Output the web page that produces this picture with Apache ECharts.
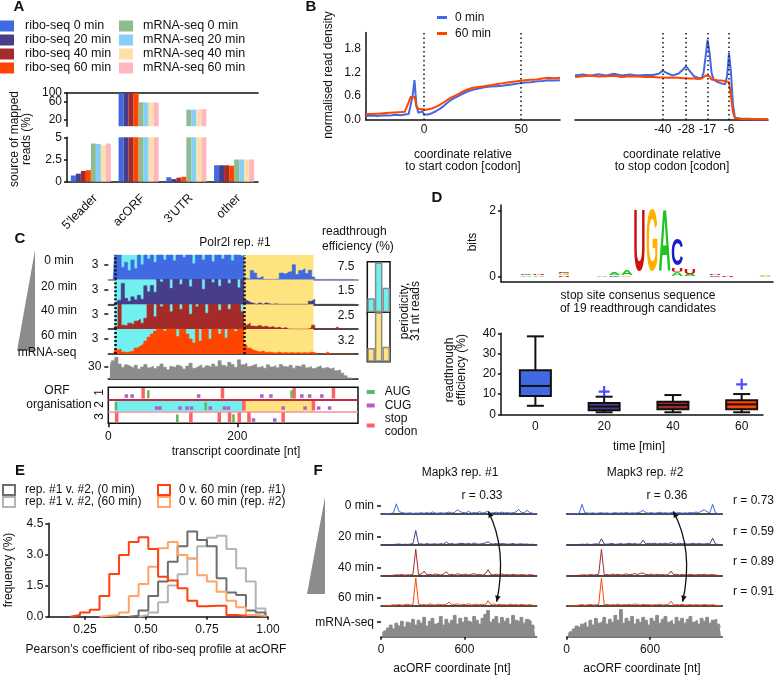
<!DOCTYPE html>
<html>
<head>
<meta charset="utf-8">
<title>ribo-seq readthrough figure</title>
<script src="https://cdn.jsdelivr.net/npm/echarts@6/dist/echarts.min.js"></script>
<style>
  html, body { margin: 0; padding: 0; background: #fff; }
  #chart { width: 779px; height: 676px; }
</style>
</head>
<body>
<div id="chart"></div>
<script>
var FONT = 'Liberation Sans';
var INK = '#111';
var CYAN = '#72f0f0';
var YELLOW = '#ffe37f';

// ---- A: source of mapped reads ----
var regionNames = ["5'leader", 'acORF', "3'UTR", 'other'];
var sampleNames = ['ribo-seq 0 min', 'ribo-seq 20 min', 'ribo-seq 40 min', 'ribo-seq 60 min',
                   'mRNA-seq 0 min', 'mRNA-seq 20 min', 'mRNA-seq 40 min', 'mRNA-seq 60 min'];
var sampleColors = ['#4169e1', '#483d8b', '#a52a2a', '#ff4500', '#8fbc8f', '#87cefa', '#ffe0a8', '#ffb6c1'];
var riboShare0 = [0.7, 97, 0.5, 1.85];
var riboShare20 = [0.9, 97, 0.3, 1.85];
var riboShare40 = [1.2, 97, 0.45, 1.85];
var riboShare60 = [1.3, 97, 0.55, 1.8];
var mrnaShare0 = [4.3, 57, 37, 2.5];
var mrnaShare20 = [4.25, 56, 37, 2.5];
var mrnaShare40 = [4.1, 56, 38, 2.5];
var mrnaShare60 = [4.3, 56, 38, 2.5];
var readShares = [riboShare0, riboShare20, riboShare40, riboShare60, mrnaShare0, mrnaShare20, mrnaShare40, mrnaShare60];
var upperTicks = [20, 60, 99.99];

// ---- B: metagene read density ----
var startCodonPos = [-30, -27, -24, -21, -18, -15, -12, -10, -9, -8, -7, -6, -5, -4, -3, -2, -1, 0, 1, 2, 4, 6, 8, 10,
                     13, 16, 19, 22, 25, 28, 31, 34, 37, 40, 43, 46, 49, 52, 55, 58, 61, 64, 67, 70];
var startDensity0 = [0.10, 0.11, 0.10, 0.12, 0.11, 0.13, 0.12, 0.14, 0.14, 0.15, 0.20, 0.60, 1.00, 0.35, 0.18, 0.20, 0.22, 0.14, 0.12, 0.14, 0.17, 0.22, 0.28, 0.35,
                     0.48, 0.56, 0.64, 0.71, 0.76, 0.79, 0.82, 0.84, 0.85, 0.86, 0.88, 0.90, 0.92, 0.94, 0.95, 0.97, 0.98, 1.00, 0.99, 1.00];
var startDensity60 = [0.15, 0.15, 0.16, 0.17, 0.18, 0.19, 0.20, 0.21, 0.22, 0.45, 0.58, 0.60, 0.58, 0.35, 0.28, 0.27, 0.27, 0.26, 0.26, 0.27, 0.29, 0.33, 0.38, 0.44,
                      0.54, 0.61, 0.69, 0.76, 0.81, 0.83, 0.85, 0.87, 0.90, 0.92, 0.94, 0.96, 0.98, 1.00, 1.01, 1.02, 1.04, 1.06, 1.05, 1.06];
var stopCodonPos = [-85, -81, -77, -73, -69, -65, -61, -57, -53, -49, -45, -42, -40, -38, -35, -32, -30, -28, -26, -24, -22, -20,
                    -19, -18, -17, -16, -15, -14, -12, -10, -8, -7, -6, -5, -4, -3, -2, 0, 4, 8, 14];
var stopDensity0 = [1.12, 1.14, 1.11, 1.15, 1.12, 1.16, 1.12, 1.14, 1.12, 1.13, 1.13, 1.16, 1.24, 1.18, 1.12, 1.16, 1.25, 1.35, 1.22, 1.10, 1.06, 1.05,
                    1.20, 1.60, 2.02, 1.70, 1.20, 1.02, 0.96, 0.92, 0.90, 1.10, 1.68, 1.20, 0.40, 0.06, 0.04, 0.03, 0.03, 0.02, 0.02];
var stopDensity60 = [1.08, 1.10, 1.12, 1.09, 1.10, 1.11, 1.08, 1.10, 1.09, 1.08, 1.08, 1.07, 1.07, 1.06, 1.07, 1.06, 1.05, 1.05, 1.04, 1.04, 1.03, 1.04,
                     1.07, 1.12, 1.17, 1.10, 1.02, 1.00, 1.00, 0.99, 0.98, 0.98, 0.95, 0.60, 0.20, 0.05, 0.04, 0.03, 0.02, 0.02, 0.02];
var startMarks = [0, 50];
var stopMarks = [-40, -28, -17, -6];

// ---- C: Polr2l profile, 5 nt bins ----
var transcriptLen = 387;
var cBin = 5;
var acorfStart = 10, acorfStop = 210, readthroughStop = 318;
var riboProfile0 = [0, 0, 6, 5.5, 2.5, 3.5, 1.8, 4, 2.2, 6, 3, 6, 4.2, 6, 3.5, 6,
  6, 4, 6, 6, 3.8, 6, 6, 4.5, 6, 6, 3.2, 6, 6, 4, 6, 6, 3.6, 6, 6, 4.2, 6, 6, 3.8, 6, 6, 4.8,
  0.2, 0, 1.8, 1.3, 0.3, 0.6, 0, 0, 0, 0, 0.1, 1.3, 1.1, 1.5, 1.6, 3.0, 1.0, 1.8, 2.2, 1.2, 1.9, 0.5,
  0, 0, 0, 0, 0, 0, 0, 0, 0, 0, 0, 0, 0];
var riboProfile20 = [0, 0, 0.3, 0.8, 4.2, 1.2, 0.6, 1.5, 0.9, 1.8, 1.0, 3.7, 2.5, 3.8, 2.4,
  6, 4.5, 6, 6, 3.2, 6, 6, 4.0, 6, 6, 3.5, 6, 6, 6, 3.0, 6, 6, 4.4, 6, 3.6, 6, 6, 4.2, 6, 6, 3.3, 6,
  0.8, 0.4, 0.2, 0, 0.3, 0, 0.3, 0.1, 0, 0.1, 0, 0, 0, 0, 0, 0, 0, 0, 0, 0, 0.6, 1.0,
  0, 0, 0, 0, 0, 0, 0, 0, 0, 0, 0, 0, 0];
var riboProfile40 = [0, 0, 0.5, 6, 0.8, 0.6, 1.2, 0.9, 1.6, 2.0, 1.2, 2.2, 5, 6, 2.5,
  6, 4.5, 6, 6, 3.5, 6, 6, 4.0, 6, 6, 3.0, 6, 4.5, 6, 6, 3.2, 6, 6, 6, 3.8, 6, 6, 4.0, 6, 5, 6, 3.5,
  0.8, 1.2, 0.6, 0.5, 0.8, 0.4, 0.6, 0.3, 0.5, 0.2, 0.4, 0.1, 0.3, 0, 0, 0, 0, 0, 0, 0, 0.3, 0.8,
  0, 0, 0, 0, 0, 0, 0.4, 0, 0, 0, 0, 0, 0];
var riboProfile60 = [0, 0, 0.8, 1.0, 0.4, 0.3, 0.5, 0.6, 1.2, 1.6, 2.0, 2.6, 3.4, 4.0, 4.6,
  6, 6, 4.6, 6, 6, 6, 3.5, 6, 6, 4.0, 3.0, 2.2, 6, 2.6, 5, 6, 3.0, 6, 6, 4.0, 6, 3.2, 6, 6, 4.5, 6, 6,
  1.8, 1.2, 0.8, 0.6, 0.4, 0.6, 0.3, 0.4, 0.3, 0.2, 0.4, 0.2, 0.3, 0.2, 0.3, 0.2, 0.3, 0.2, 0.3, 0.2, 0.4, 0.3,
  0, 0, 0, 0.4, 0, 0, 0, 0, 0, 0, 0, 0, 0];
var mrnaProfileC = [30, 44, 52, 36, 28, 34, 30, 26, 33, 24, 29, 35, 27, 31, 25, 30, 36, 28, 22, 30,
  27, 33, 29, 24, 31, 38, 26, 30, 34, 27, 32, 28, 36, 30, 44, 33, 29, 40, 35, 28,
  46, 34, 38, 30, 33, 36, 28, 31, 26, 34, 29, 32, 27, 35, 30, 28, 33, 26, 31, 29,
  34, 27, 30, 25, 29, 32, 26, 28, 24, 27, 20, 22, 14, 8, 3, 0, 0];
var readthroughEff = [7.5, 1.5, 2.5, 3.2];
var timeLabels = ['0 min', '20 min', '40 min', '60 min'];
var timeColors = ['#4169e1', '#483d8b', '#a52a2a', '#ff4500'];
var frameLabels = ['1', '2', '3'];
var augFrame1 = [62, 284], augFrame2 = [12, 151], augFrame3 = [107, 194];
var cugFrame1 = [28, 37, 140, 238, 252, 300, 312, 331];
var cugFrame2 = [75, 80, 111, 122, 129, 158, 180, 186, 271, 305, 326, 343];
var cugFrame3 = [225, 258];
var stopFrame1 = [54, 177, 288, 349];
var stopFrame2 = [210, 318];
var stopFrame3 = [13, 128, 172, 188, 203, 218, 271];
var periodicityAcorf = [16, 57, 28];
var periodicityReadthrough = [16, 58, 17.5];

// ---- D: stop site logo and readthrough efficiency ----
var logoStacks = [[2, 'A', 0.04], [2, 'C', 0.02], [3, 'A', 0.05], [3, 'U', 0.02],
  [5, 'U', 0.05], [5, 'G', 0.07], [5, 'C', 0.05], [8, 'A', 0.03], [9, 'C', 0.05], [9, 'A', 0.08],
  [10, 'G', 0.05], [10, 'A', 0.16], [11, 'U', 1.88], [12, 'G', 1.88], [13, 'A', 1.88],
  [14, 'A', 0.13], [14, 'U', 0.12], [14, 'C', 0.82], [15, 'A', 0.08], [15, 'U', 0.14],
  [17, 'C', 0.05], [17, 'U', 0.02], [18, 'U', 0.03], [21, 'G', 0.03], [21, 'A', 0.02]];
var logoColors = { A: '#1fc41f', C: '#1c1ccc', G: '#ffb000', U: '#d01010' };
var timePoints = [0, 20, 40, 60];
// [low whisker, Q1, median, Q3, high whisker]
var readthroughBoxes = [[4.2, 9.0, 14.0, 21.8, 38.5], [1.0, 2.0, 3.8, 5.6, 8.7], [1.0, 2.5, 4.6, 6.2, 9.5], [1.0, 2.5, 4.9, 7.0, 10.0]];
var readthroughOutliers = [[1, 11.2], [3, 14.8]];

// ---- E: Pearson coefficient histograms ----
var pearsonBinEdges = [0.19, 0.23, 0.27, 0.31, 0.35, 0.39, 0.43, 0.47, 0.51, 0.55, 0.59, 0.63, 0.67, 0.71, 0.75, 0.79, 0.83, 0.87, 0.91, 0.95];
var pearsonBinWidth = 0.04;
var histRep0 = [0, 0, 0, 0, 0, 0, 0.05, 0.3, 1.0, 1.7, 2.65, 3.4, 4.1, 3.7, 3.4, 1.85, 1.17, 1.05, 0.3, 0.2];
var histRep60 = [0, 0, 0, 0, 0, 0, 0, 0.08, 0.2, 0.7, 1.5, 2.05, 2.8, 3.4, 3.8, 3.9, 3.26, 2.33, 1.7, 0.4];
var histTime1 = [0.08, 0.2, 0.34, 1.0, 2.06, 2.97, 3.6, 3.83, 3.26, 1.93, 1.74, 1.37, 0.77, 0.5, 0.53, 0.53, 0.08, 0.05, 0, 0];
var histTime2 = [0, 0, 0, 0.05, 0.08, 0.2, 1.0, 1.57, 2.41, 3.3, 3.6, 2.97, 2.8, 2.0, 1.7, 1.2, 0.77, 0.45, 0.08, 0.05];
var histNames = ['rep. #1 v. #2, (0 min)', 'rep. #1 v. #2, (60 min)', '0 v. 60 min (rep. #1)', '0 v. 60 min (rep. #2)'];
var histColors = ['#6e6e6e', '#b4b4b4', '#ff4010', '#ffa366'];

// ---- F: Mapk3 profiles, 20 nt bins ----
var mapkLen = 1120;
var fBin = 20;
var mapkRep1 = [
  [0, 0, 0, 0.6, 1.2, 10.5, 2.4, 1.5, 1.0, 0.8, 1.2, 0.6, 1.0, 0.8, 1.4, 0.7, 1.5, 0.8, 2.2, 1.0, 0.8, 1.4, 0.9, 1.2, 2.0, 1.0, 1.6, 4.5, 2.4, 1.5, 1.2, 2.8, 1.0, 1.5, 1.2, 2.4, 1.0, 1.8, 2.6, 1.0, 1.4, 1.8, 1.1, 2.0, 1.2, 1.6, 1.0, 1.4, 2.0, 4.8, 1.5, 1.2, 3.8, 1.5, 0.8, 0.4],
  [0, 0, 0, 0.3, 0.5, 0.8, 1.0, 0.5, 0.8, 0.6, 0.9, 1.5, 15, 1.0, 1.2, 0.6, 1.5, 0.8, 1.0, 1.2, 0.7, 1.4, 0.9, 3.0, 1.0, 1.5, 0.8, 1.0, 1.8, 1.5, 1.0, 1.8, 0.8, 2.2, 1.0, 0.9, 1.5, 2.0, 3.5, 1.2, 1.0, 1.5, 1.0, 1.4, 1.2, 0.8, 1.0, 1.5, 0.7, 1.0, 1.2, 0.8, 1.0, 0.6, 0.8, 0.4],
  [0, 0, 0, 0.5, 0.8, 1.2, 1.0, 1.5, 0.8, 1.2, 1.0, 1.8, 27.7, 1.5, 2.0, 5.0, 1.2, 1.8, 1.0, 2.2, 1.5, 1.0, 2.0, 4.5, 1.2, 1.8, 1.0, 2.5, 1.5, 1.2, 2.0, 1.0, 1.8, 2.4, 1.2, 1.5, 1.0, 2.0, 6.5, 1.5, 1.2, 1.8, 1.0, 2.2, 1.2, 1.5, 1.0, 1.8, 1.2, 1.0, 1.5, 1.2, 0.8, 1.4, 1.0, 0.5],
  [0, 0, 0, 0.8, 1.2, 1.0, 1.5, 0.8, 1.2, 1.8, 1.0, 1.5, 29, 2.0, 1.2, 1.5, 1.0, 2.2, 1.4, 1.0, 2.0, 1.5, 1.2, 1.8, 4.0, 1.2, 1.5, 2.2, 1.0, 1.8, 1.2, 2.5, 1.0, 1.5, 2.0, 1.2, 1.8, 1.0, 5.5, 1.5, 2.2, 1.0, 1.8, 1.2, 1.5, 1.0, 2.0, 1.2, 1.5, 1.0, 1.8, 1.2, 1.0, 1.5, 0.8, 0.5]
];
var mapkMrna1 = [3, 6, 9, 12, 8, 14, 11, 16, 10, 15, 13, 18, 12, 17, 14, 20, 11, 16, 19, 13, 15, 21, 12, 18, 14, 17, 22, 13, 19, 15, 20, 16, 14, 21, 17, 13, 19, 23, 27, 15, 18, 21, 14, 20, 16, 19, 13, 22, 17, 15, 20, 14, 18, 16, 12, 9];
var mapkRep2 = [
  [0, 0, 0, 0.4, 0.8, 10, 1.5, 1.0, 0.8, 1.2, 0.6, 1.0, 1.4, 0.8, 1.2, 0.6, 1.0, 1.5, 0.8, 1.2, 1.0, 1.6, 0.8, 1.2, 1.0, 1.4, 2.0, 3.8, 1.2, 1.0, 1.5, 0.8, 1.2, 1.8, 1.0, 1.4, 0.9, 1.2, 2.0, 1.0, 1.5, 0.8, 1.2, 1.0, 1.6, 1.2, 2.0, 1.5, 3.0, 4.5, 2.2, 1.5, 10, 1.2, 0.5, 0.3],
  [0, 0, 0, 0.3, 0.5, 0.8, 0.6, 1.0, 0.5, 0.8, 1.2, 0.8, 6.5, 1.0, 0.8, 1.2, 1.5, 0.6, 1.0, 1.4, 0.8, 1.2, 1.8, 1.0, 1.5, 0.8, 1.2, 5.0, 1.0, 1.8, 1.2, 2.0, 1.0, 1.5, 1.2, 1.8, 1.0, 2.5, 1.5, 1.0, 1.8, 1.2, 1.5, 1.0, 1.2, 1.8, 1.0, 1.5, 1.2, 1.0, 1.5, 1.2, 7, 1.0, 0.6, 0.3],
  [0, 0, 0, 0.4, 0.8, 1.0, 1.2, 0.8, 1.5, 1.0, 1.2, 1.8, 27.7, 1.2, 1.5, 1.0, 2.0, 1.2, 1.8, 1.0, 1.5, 2.2, 1.2, 1.8, 2.5, 1.5, 2.8, 3.0, 1.5, 1.2, 2.0, 1.0, 1.8, 1.2, 1.5, 1.0, 1.4, 5.0, 1.2, 1.8, 1.0, 1.5, 1.2, 1.0, 1.8, 1.2, 1.0, 1.5, 1.2, 1.8, 1.0, 1.2, 1.5, 1.0, 0.6, 0.3],
  [0, 0, 0, 0.6, 1.0, 1.5, 0.8, 1.2, 1.8, 1.0, 1.2, 1.5, 28.7, 1.2, 1.8, 1.0, 1.5, 1.2, 2.0, 1.0, 1.5, 1.2, 1.8, 1.0, 2.2, 1.5, 1.0, 1.8, 1.2, 1.5, 1.0, 1.4, 1.2, 1.8, 1.0, 1.5, 1.2, 5.0, 1.0, 1.5, 1.2, 1.8, 1.0, 1.2, 1.5, 1.0, 1.4, 1.2, 1.0, 1.6, 1.2, 1.0, 1.4, 0.8, 0.5, 0.3]
];
var mapkMrna2 = [2, 5, 8, 11, 9, 13, 15, 10, 17, 12, 19, 14, 16, 20, 13, 18, 15, 22, 17, 28, 14, 19, 16, 21, 13, 18, 15, 20, 17, 12, 19, 16, 22, 14, 18, 21, 15, 17, 13, 20, 16, 19, 14, 18, 21, 15, 17, 13, 19, 16, 20, 14, 17, 18, 13, 10];
var replicateCorr = [0.33, 0.36];
var timeCorr = [0.73, 0.59, 0.89, 0.91];

// ---------------------------------------------------------------
function merge(a, b) {
  for (var k in b) {
    if (b[k] && typeof b[k] === 'object' && !Array.isArray(b[k]) && a[k] && typeof a[k] === 'object' && !Array.isArray(a[k])) merge(a[k], b[k]);
    else a[k] = b[k];
  }
  return a;
}
function axis(o) {
  return merge({
    axisLine: { show: false, onZero: false, lineStyle: { color: INK, width: 1.5 } },
    axisTick: { show: false, length: 4, lineStyle: { color: INK, width: 1.5 } },
    axisLabel: { show: false, color: INK, fontFamily: FONT, fontSize: 12 },
    splitLine: { show: false },
    splitArea: { show: false }
  }, o);
}
var grids = [], xAxes = [], yAxes = [], series = [], extraYAxes = [];
function panel(box, xa, ya) {
  var i = grids.length;
  grids.push({ left: box[0], top: box[1], width: box[2], height: box[3], outerBoundsMode: 'none',
    show: !!box[4], borderColor: INK, borderWidth: 1.5, backgroundColor: 'transparent' });
  xa = axis(xa); ya = axis(ya);
  xa.gridIndex = i; ya.gridIndex = i;
  xAxes.push(xa); yAxes.push(ya);
  return i;
}
function on(i, s) {
  s.xAxisIndex = i; s.yAxisIndex = i; s.silent = true;
  series.push(s);
  return s;
}
function binned(values, width) {
  return values.map(function (v, i) { return [i * width + width / 2, v]; });
}
function dotted(xs) {
  return { silent: true, symbol: 'none', label: { show: false },
    lineStyle: { color: INK, type: [1.5, 3], width: 1.5 },
    data: xs.map(function (x) { return { xAxis: x }; }) };
}
function roundLabel(v) { return String(Math.round(v)); }

// ---- A ----
var aUp = panel([67, 92.7, 191, 33.5],
  { type: 'category', data: regionNames, position: 'top', axisLine: { show: true } },
  { type: 'log', min: 14, max: 100, axisLine: { show: true },
    axisTick: { show: true, length: 3, customValues: upperTicks },
    axisLabel: { show: true, margin: 5, customValues: upperTicks.slice(0, 2), formatter: roundLabel } });
// second, label-only axis so the "100" label is not dropped for sitting close to "60"
extraYAxes.push(axis({ gridIndex: aUp, type: 'log', min: 14, max: 100, position: 'left', offset: 0,
  axisLabel: { show: true, margin: 5, customValues: upperTicks.slice(2), formatter: roundLabel } }));
var aLo = panel([67, 137.3, 191, 44.4],
  { type: 'category', data: regionNames, axisLine: { show: true },
    axisLabel: { show: true, rotate: 45, margin: 10, interval: 0, fontSize: 12.5, verticalAlign: 'top' } },
  { type: 'value', min: 0, max: 5, axisLine: { show: true },
    axisTick: { show: true, length: 3, customValues: [0, 2.5, 5] },
    axisLabel: { show: true, margin: 5, customValues: [0, 2.5, 5] } });
readShares.forEach(function (vals, k) {
  var st = { color: sampleColors[k] };
  on(aUp, { type: 'bar', name: sampleNames[k], barGap: '0%', barCategoryGap: '16%', itemStyle: st,
    data: vals.map(function (v) { return v >= 14 ? v : '-'; }) });
  on(aLo, { type: 'bar', name: sampleNames[k], barGap: '0%', barCategoryGap: '16%', itemStyle: st, data: vals.slice() });
});

// ---- B ----
var bLeft = panel([366, 32.4, 194, 87.6],
  { type: 'value', min: -30, max: 70, axisLine: { show: true },
    axisLabel: { show: true, margin: 4, customValues: startMarks } },
  { type: 'value', min: 0, max: 2.2, axisLine: { show: true },
    axisLabel: { show: true, margin: 5, customValues: [0, 0.6, 1.2, 1.8], formatter: function (v) { return v.toFixed(1); } } });
var bRight = panel([575, 32.4, 193, 87.6],
  { type: 'value', min: -85, max: 14, axisLine: { show: true },
    axisLabel: { show: true, margin: 4, customValues: stopMarks } },
  { type: 'value', min: 0, max: 2.2 });
function densityLine(g, name, xs, ys, color, marks) {
  var s = { type: 'line', name: name, data: xs.map(function (x, i) { return [x, ys[i]]; }),
    symbol: 'none', lineStyle: { color: color, width: 2 }, itemStyle: { color: color }, z: 3 };
  if (marks) s.markLine = dotted(marks);
  return on(g, s);
}
densityLine(bLeft, '0 min', startCodonPos, startDensity0, timeColors[0], startMarks);
densityLine(bLeft, '60 min', startCodonPos, startDensity60, timeColors[3]);
densityLine(bRight, '0 min', stopCodonPos, stopDensity0, timeColors[0], stopMarks);
densityLine(bRight, '60 min', stopCodonPos, stopDensity60, timeColors[3]);

// ---- C ----
var cLeft = 108.3, cWidth = 249.7;
var cTrackTop = [255, 279.4, 304.3, 329.1, 354];
var cTrackH = [24.4, 24.9, 24.8, 24.9, 25];
[riboProfile0, riboProfile20, riboProfile40, riboProfile60].forEach(function (prof, k) {
  var g = panel([cLeft, cTrackTop[k], cWidth, cTrackH[k]],
    { type: 'value', min: 0, max: transcriptLen, axisLine: { show: true, lineStyle: { color: k === 0 ? '#808080' : INK } } },
    { type: 'value', min: 0, max: 5, axisTick: { show: true, length: 4, customValues: [3] },
      axisLabel: { show: true, margin: 10, customValues: [3] } });
  on(g, { type: 'line', data: [[0, 0]], symbol: 'none', lineStyle: { opacity: 0 }, z: 1,
    markArea: { silent: true, data: [
      [{ xAxis: acorfStart, itemStyle: { color: CYAN } }, { xAxis: acorfStop }],
      [{ xAxis: acorfStop, itemStyle: { color: YELLOW } }, { xAxis: readthroughStop }]] } });
  on(g, { type: 'line', name: 'polr2l ' + timeLabels[k], data: binned(prof, cBin), step: 'middle', symbol: 'none',
    lineStyle: { color: timeColors[k], width: 0.6 }, areaStyle: { color: timeColors[k], opacity: 1 }, z: 3,
    markLine: merge(dotted([acorfStart, acorfStop]), { lineStyle: { type: [2, 2], width: 2.5 } }) });
});
var cMrna = panel([cLeft, cTrackTop[4], cWidth, cTrackH[4]],
  { type: 'value', min: 0, max: transcriptLen, axisLine: { show: true } },
  { type: 'value', min: 0, max: 60, axisTick: { show: true, length: 4, customValues: [30] },
    axisLabel: { show: true, margin: 7, customValues: [30] } });
on(cMrna, { type: 'line', name: 'polr2l mRNA', data: binned(mrnaProfileC, cBin), step: 'middle', symbol: 'none',
  lineStyle: { color: '#8c8c8c', width: 0.6 }, areaStyle: { color: '#8c8c8c', opacity: 1 } });

var cOrf = panel([cLeft, 387.3, cWidth, 36, true],
  { type: 'value', min: 0, max: transcriptLen,
    axisTick: { show: true, length: 4, customValues: [0, 200] },
    axisLabel: { show: true, margin: 7, customValues: [0, 200] } },
  { type: 'value', min: 0, max: 3, inverse: true });
on(cOrf, { type: 'line', data: [[0, 0]], symbol: 'none', lineStyle: { opacity: 0 }, z: 1,
  markArea: { silent: true, data: [
    [{ coord: [acorfStart, 1], itemStyle: { color: CYAN } }, { coord: [acorfStop, 2] }],
    [{ coord: [acorfStop, 1], itemStyle: { color: YELLOW } }, { coord: [readthroughStop, 2] }]] },
  markLine: { silent: true, symbol: 'none', label: { show: false }, data: [
    { yAxis: 1, lineStyle: { color: '#c8283c', width: 2, type: 'solid' } },
    { yAxis: 2, lineStyle: { color: '#f0909c', width: 1.5, type: 'solid' } }] } });
var orfKinds = [
  { name: 'stop\ncodon', color: '#ff6262', frames: [stopFrame1, stopFrame2, stopFrame3] },
  { name: 'AUG', color: '#5cb85c', frames: [augFrame1, augFrame2, augFrame3] },
  { name: 'CUG', color: '#b060c4', frames: [cugFrame1, cugFrame2, cugFrame3] }
];
orfKinds.forEach(function (kind, k) {
  var data = [];
  kind.frames.forEach(function (list, f) { list.forEach(function (nt) { data.push([nt, f + 1]); }); });
  on(cOrf, { type: 'custom', name: kind.name, data: data, z: 4, itemStyle: { color: kind.color },
    renderItem: function (params, api) {
      var top = api.coord([api.value(0), api.value(1) - 1]);
      var bot = api.coord([api.value(0), api.value(1)]);
      var h = bot[1] - top[1], w, y0, y1;
      if (k === 0) { w = 3.5; y0 = top[1] + 0.8; y1 = bot[1] - 0.8; }
      else if (k === 1) { w = 2.5; y0 = top[1] + h * 0.25; y1 = bot[1] - 1; }
      else { w = 3.5; y0 = bot[1] - 5; y1 = bot[1] - 1.5; }
      return { type: 'rect', shape: { x: top[0] - w / 2, y: y0, width: w, height: y1 - y0 }, style: { fill: kind.color } };
    } });
});
var pUp = panel([367.3, 261.7, 22.7, 50.6, true], { type: 'category', data: ['1', '2', '3'] }, { type: 'value', min: 0, max: 58 });
var pLo = panel([367.3, 312.3, 22.7, 49.4, true], { type: 'category', data: ['1', '2', '3'] }, { type: 'value', min: 0, max: 58 });
on(pUp, { type: 'bar', data: periodicityAcorf, barCategoryGap: '0%', itemStyle: { color: CYAN, borderColor: '#8a8a8a', borderWidth: 1.5 } });
on(pLo, { type: 'bar', data: periodicityReadthrough, barCategoryGap: '0%', itemStyle: { color: YELLOW, borderColor: '#8a8a8a', borderWidth: 1.5 } });

// ---- D ----
var dLogo = panel([501, 205, 272, 76.7],
  { type: 'value', min: 0, max: 21.6, axisLine: { show: true } },
  { type: 'value', min: -0.15, max: 2.18, axisLine: { show: true },
    axisTick: { show: true, length: 3, customValues: [0, 2] },
    axisLabel: { show: true, margin: 5, customValues: [0, 2] } });
var letterIdx = 'ACGU';
var letterWidth = { A: 0.722, C: 0.722, G: 0.778, U: 0.722 };
var logoData = [], stackTop = {};
logoStacks.forEach(function (s) {
  var base = stackTop[s[0]] || 0;
  logoData.push([s[0], base, base + s[2], letterIdx.indexOf(s[1])]);
  stackTop[s[0]] = base + s[2];
});
on(dLogo, { type: 'custom', data: logoData, z: 3,
  renderItem: function (params, api) {
    var L = letterIdx.charAt(api.value(3));
    var a = api.coord([api.value(0) - 0.49, api.value(1)]);
    var b = api.coord([api.value(0) + 0.49, api.value(2)]);
    var w = b[0] - a[0], h = Math.max(a[1] - b[1], 0.5);
    return { type: 'text', x: (a[0] + b[0]) / 2, y: (a[1] + b[1]) / 2,
      scaleX: w / (letterWidth[L] * 100), scaleY: h / 71.6,
      style: { text: L, x: 0, y: 0, align: 'center', verticalAlign: 'middle', font: 'bold 100px ' + FONT, fill: logoColors[L] } };
  } });
var dBox = panel([501, 333.3, 262, 81],
  { type: 'value', min: -0.5, max: 3.31, axisLine: { show: true },
    axisLabel: { show: true, margin: 6, customValues: [0, 1, 2, 3], formatter: function (v) { return String(timePoints[Math.round(v)]); } } },
  { type: 'value', min: 0, max: 40, interval: 10, axisLine: { show: true },
    axisTick: { show: true, length: 3 }, axisLabel: { show: true, margin: 5 } });
on(dBox, { type: 'custom', data: readthroughBoxes.map(function (b, i) { return [i].concat(b); }), z: 3,
  renderItem: function (params, api) {
    var i = api.value(0);
    function y(v) { return api.coord([i, v])[1]; }
    var cx = api.coord([i, 0])[0], bw = 31, cw = 17;
    var st = { stroke: INK, lineWidth: 2 };
    return { type: 'group', children: [
      { type: 'line', shape: { x1: cx, y1: y(api.value(1)), x2: cx, y2: y(api.value(2)) }, style: st },
      { type: 'line', shape: { x1: cx, y1: y(api.value(4)), x2: cx, y2: y(api.value(5)) }, style: st },
      { type: 'line', shape: { x1: cx - cw / 2, y1: y(api.value(1)), x2: cx + cw / 2, y2: y(api.value(1)) }, style: st },
      { type: 'line', shape: { x1: cx - cw / 2, y1: y(api.value(5)), x2: cx + cw / 2, y2: y(api.value(5)) }, style: st },
      { type: 'rect', shape: { x: cx - bw / 2, y: y(api.value(4)), width: bw, height: y(api.value(2)) - y(api.value(4)) },
        style: { fill: timeColors[i], stroke: INK, lineWidth: 2 } },
      { type: 'line', shape: { x1: cx - bw / 2, y1: y(api.value(3)), x2: cx + bw / 2, y2: y(api.value(3)) }, style: st }
    ] };
  } });
on(dBox, { type: 'scatter', data: readthroughOutliers, symbol: 'path://M4,0H6V4H10V6H6V10H4V6H0V4H4Z', symbolSize: 11,
  itemStyle: { color: '#1f1fff' }, z: 4 });

// ---- E ----
var eGrid = panel([48.3, 523.3, 219.6, 93.4],
  { type: 'value', min: 0.1, max: 1.0, axisLine: { show: true },
    axisTick: { show: true, length: 3, customValues: [0.25, 0.5, 0.75, 1] },
    axisLabel: { show: true, margin: 7, customValues: [0.25, 0.5, 0.75, 1], formatter: function (v) { return v.toFixed(2); } } },
  { type: 'value', min: 0, max: 4.5, interval: 1.5, axisLine: { show: true },
    axisTick: { show: true, length: 3 },
    axisLabel: { show: true, margin: 5, formatter: function (v) { return v.toFixed(1); } } });
function histPoints(freq) {
  var first = 0, last = freq.length - 1;
  while (first < last && !(freq[first] > 0)) first++;
  while (last > first && !(freq[last] > 0)) last--;
  var pts = [[pearsonBinEdges[first], 0]];
  for (var i = first; i <= last; i++) pts.push([pearsonBinEdges[i], freq[i]]);
  pts.push([pearsonBinEdges[last] + pearsonBinWidth, 0]);
  return pts;
}
[histRep60, histRep0, histTime2, histTime1].forEach(function (freq, j) {
  var k = [1, 0, 3, 2][j];
  on(eGrid, { type: 'line', name: histNames[k], data: histPoints(freq), step: 'end', symbol: 'none',
    lineStyle: { color: histColors[k], width: 2 }, itemStyle: { color: histColors[k] }, z: 3 + j });
});

// ---- F ----
var fLefts = [381, 566.7], fWidth = 155.7;
var fBase = [514, 545, 576, 606, 636.7], fH = 29;
var rowLabels = timeLabels.concat(['mRNA-seq']);
[[mapkRep1, mapkMrna1], [mapkRep2, mapkMrna2]].forEach(function (rep, r) {
  var tracks = rep[0].concat([rep[1]]);
  tracks.forEach(function (prof, k) {
    var isMrna = k === 4;
    var g = panel([fLefts[r], fBase[k] - fH, fWidth, fH],
      isMrna
        ? { type: 'value', min: 0, max: mapkLen, axisLine: { show: true, lineStyle: { color: '#444' } },
            axisTick: { show: true, length: 3, customValues: [0, 600] },
            axisLabel: { show: true, margin: 7, customValues: [0, 600] } }
        : { type: 'value', min: 0, max: mapkLen, axisLine: { show: true } },
      { type: 'value', min: 0, max: 30,
        axisTick: { show: r === 0, length: 4, customValues: [isMrna ? 15 : 9] },
        axisLabel: { show: r === 0, margin: 7, customValues: [isMrna ? 15 : 9], formatter: function () { return rowLabels[k]; } } });
    var c = isMrna ? '#8a8a8a' : timeColors[k];
    var s = { type: 'line', name: 'mapk3 ' + r + ' ' + k, data: binned(prof, fBin), symbol: 'none',
      lineStyle: { color: c, width: 1 }, z: 3 };
    if (isMrna) { s.step = 'middle'; s.areaStyle = { color: c, opacity: 1 }; }
    on(g, s);
  });
});

// ---- texts and decorations ----
function txt(x, y, s, o) {
  o = o || {};
  return { type: 'text', x: x, y: y, rotation: o.rot || 0, silent: true, z: 10,
    style: { text: s, fill: INK, font: (o.bold ? 'bold ' : '') + (o.size || 12) + 'px ' + FONT,
      align: o.align || 'center', verticalAlign: 'middle', lineHeight: o.lh || 13 } };
}
function tri(pts) { return { type: 'polygon', silent: true, shape: { points: pts }, style: { fill: '#8c8c8c' } }; }
function curvedArrow(p0, c, p2) {
  var els = [{ type: 'bezierCurve', silent: true, z: 10,
    shape: { x1: p0[0], y1: p0[1], x2: p2[0], y2: p2[1], cpx1: c[0], cpy1: c[1] },
    style: { stroke: INK, lineWidth: 1.3, fill: 'none' } }];
  [p0, p2].forEach(function (tip) {
    var dx = tip[0] - c[0], dy = tip[1] - c[1], L = Math.sqrt(dx * dx + dy * dy);
    dx /= L; dy /= L;
    var bx = tip[0] - dx * 6, by = tip[1] - dy * 6, hw = 2.8;
    els.push({ type: 'polygon', silent: true, z: 10,
      shape: { points: [[tip[0], tip[1]], [bx - dy * hw, by + dx * hw], [bx + dy * hw, by - dx * hw]] }, style: { fill: INK } });
  });
  return els;
}
var ROT = Math.PI / 2;
var graphics = [
  txt(19, 7, 'A', { bold: true, size: 15 }), txt(311, 7, 'B', { bold: true, size: 15 }),
  txt(20, 239, 'C', { bold: true, size: 15 }), txt(437, 198, 'D', { bold: true, size: 15 }),
  txt(20, 471, 'E', { bold: true, size: 15 }), txt(318, 471, 'F', { bold: true, size: 15 }),
  txt(21, 139, 'source of mapped\nreads (%)', { rot: ROT, lh: 12 }),
  txt(329, 75, 'normalised read density', { rot: ROT }),
  txt(463, 154.5, 'coordinate relative'), txt(463, 167, 'to start codon [codon]'),
  txt(672, 154.5, 'coordinate relative'), txt(672, 167, 'to stop codon [codon]'),
  tri([[35, 250], [17, 351], [35, 351]]),
  txt(235, 243, 'Polr2l rep. #1'),
  txt(322, 232, 'readthrough', { align: 'left' }), txt(322, 247, 'efficiency (%)', { align: 'left' }),
  txt(47, 353, 'mRNA-seq'),
  txt(57, 391, 'ORF'), txt(59, 405, 'organisation'),
  txt(410, 311, 'periodicity,\n31 nt reads', { rot: ROT, lh: 11 }),
  txt(236, 452, 'transcript coordinate [nt]'),
  txt(473, 242, 'bits', { rot: ROT }),
  txt(638, 296, 'stop site consenus sequence'), txt(638, 308.5, 'of 19 readthrough candidates'),
  txt(456, 370, 'readthrough\nefficiency (%)', { rot: ROT, lh: 12 }),
  txt(639, 447, 'time [min]'),
  txt(9, 570, 'frequency (%)', { rot: ROT }),
  txt(156, 650, "Pearson's coefficient of ribo-seq profile at acORF"),
  tri([[325, 497], [307, 594], [325, 594]]),
  txt(460, 473, 'Mapk3 rep. #1'), txt(645, 473, 'Mapk3 rep. #2'),
  txt(482, 496, 'r = ' + replicateCorr[0].toFixed(2)), txt(667, 496, 'r = ' + replicateCorr[1].toFixed(2)),
  txt(452, 669, 'acORF coordinate [nt]'), txt(642, 669, 'acORF coordinate [nt]')
];
var cRowY = [261, 287, 311, 336];
timeLabels.forEach(function (t, k) {
  graphics.push(txt(59, cRowY[k], t));
  graphics.push(txt(346, [266.7, 291, 315.7, 340.7][k], readthroughEff[k].toFixed(1)));
  graphics.push(txt(733, [501, 531.7, 561.7, 591.7][k], 'r = ' + timeCorr[k].toFixed(2), { align: 'left' }));
});
frameLabels.forEach(function (f, k) {
  graphics.push(txt(100, [392.5, 404.5, 416.5][k], f, { rot: ROT }));
});
graphics = graphics.concat(curvedArrow([488.3, 511.5], [507.5, 549.3], [496.7, 601.7]),
                           curvedArrow([673.3, 511.5], [694, 549.3], [682.7, 601.7]));

function legendBox(names, left, top, o) {
  return merge({ data: names, left: left, top: top, orient: 'vertical', padding: 0, selectedMode: false,
    icon: 'rect', itemWidth: 14, itemHeight: 11, itemGap: 1,
    textStyle: { color: INK, fontFamily: FONT, fontSize: 12, lineHeight: 12, padding: [0, 0, 0, 6] } }, o || {});
}
function hollow(k) {
  return { name: histNames[k], icon: 'rect', itemStyle: { color: 'rgba(0,0,0,0)', borderColor: histColors[k], borderWidth: 2 } };
}
var legends = [
  legendBox(sampleNames.slice(0, 4), 0, 19.5, { textStyle: { fontSize: 12.5 } }),
  legendBox(sampleNames.slice(4), 119, 19.5, { textStyle: { fontSize: 12.5, padding: [0, 0, 0, 5] } }),
  legendBox(['0 min', '60 min'], 437, 10, { itemWidth: 10, itemHeight: 3, textStyle: { lineHeight: 15, padding: [0, 0, 0, 3] } }),
  legendBox(orfKinds.slice(1).concat(orfKinds.slice(0, 1)).map(function (k) {
    return { name: k.name, itemStyle: { color: k.color } };
  }), 366.7, 385.5, { itemWidth: 8, itemHeight: 4, itemGap: 0.5, textStyle: { lineHeight: 13, padding: [0, 0, 0, 5] } }),
  legendBox([hollow(0), hollow(1)], 2, 484, { itemWidth: 12, itemHeight: 10, itemGap: 0, textStyle: { padding: [0, 0, 0, 5] } }),
  legendBox([hollow(2), hollow(3)], 157, 484, { itemWidth: 12, itemHeight: 10, itemGap: 0, textStyle: { padding: [0, 0, 0, 4] } })
];

var chart = echarts.init(document.getElementById('chart'), null, { renderer: 'canvas' });
chart.setOption({
  animation: false,
  backgroundColor: '#fff',
  textStyle: { fontFamily: FONT },
  legend: legends,
  grid: grids,
  xAxis: xAxes,
  yAxis: yAxes.concat(extraYAxes),
  series: series,
  graphic: graphics
});
</script>
</body>
</html>
